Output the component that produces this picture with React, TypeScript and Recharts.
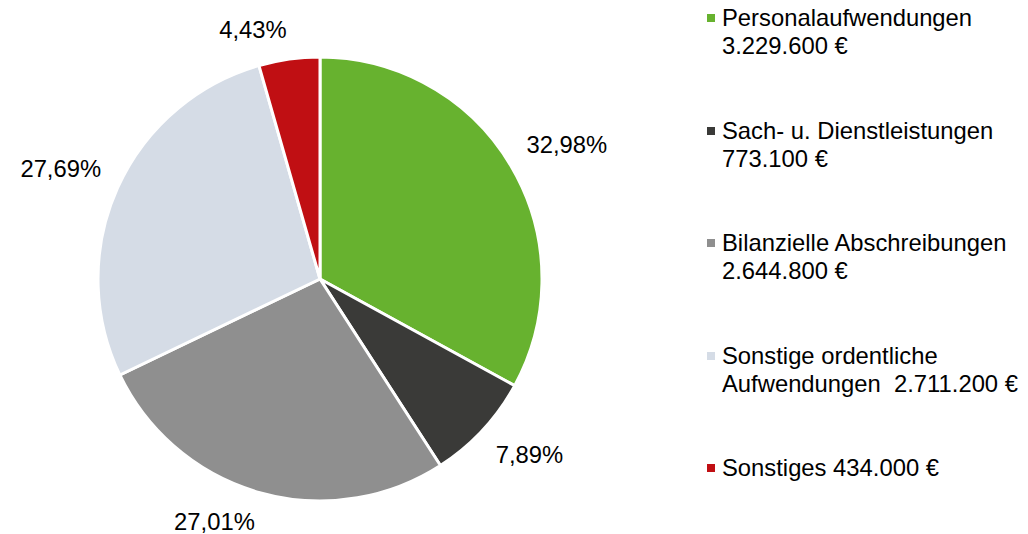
import React from "react";
import { PieChart, Pie, Cell, Legend } from "recharts";

const categories = [
  "Personalaufwendungen",
  "Sach- u. Dienstleistungen",
  "Bilanzielle Abschreibungen",
  "Sonstige ordentliche Aufwendungen",
  "Sonstiges",
];
const values = [3229600, 773100, 2644800, 2711200, 434000];
const legendLines = [
  ["Personalaufwendungen", "3.229.600 €"],
  ["Sach- u. Dienstleistungen", "773.100 €"],
  ["Bilanzielle Abschreibungen", "2.644.800 €"],
  ["Sonstige ordentliche", "Aufwendungen  2.711.200 €"],
  ["Sonstiges 434.000 €"],
];
const colors = ["#67b22f", "#3a3a38", "#8f8f8f", "#d5dce6", "#c00f13"];

const data = categories.map((name, i) => ({ name, value: values[i] }));

const FONT = "'Liberation Sans', Arial, sans-serif";
const FS = 23.8;

const charW = (ch: string) => {
  if (ch === ",") return 0.278;
  if (ch === "%") return 0.889;
  return 0.556;
};

const renderLabel = (props: any) => {
  const { cx, cy, midAngle, outerRadius, percent } = props;
  const text = (percent * 100).toFixed(2).replace(".", ",") + "%";
  const w = text.split("").reduce((s, c) => s + charW(c), 0) * FS;
  const h = 24;
  const rad = (midAngle * Math.PI) / 180;
  const cos = Math.cos(rad);
  const up = Math.sin(rad);
  const d = outerRadius + 18;
  const px = cx + d * cos;
  const py = cy - d * up;
  const x = px + Math.sign(cos) * (w / 2);
  const y = py - Math.sign(up) * (h / 2);
  return (
    <text
      x={x}
      y={y}
      textAnchor="middle"
      dominantBaseline="central"
      fill="#000"
      fontSize={FS}
      fontFamily={FONT}
    >
      {text}
    </text>
  );
};

const renderLegend = () => (
  <div style={{ fontFamily: FONT, fontSize: FS, color: "#000" }}>
    {legendLines.map((lines, i) => (
      <div
        key={i}
        style={{ position: "absolute", left: 0, top: 4 + i * 112.5, width: 325 }}
      >
        <div
          style={{
            position: "absolute",
            left: 4,
            top: 10,
            width: 8,
            height: 8,
            background: colors[i],
          }}
        />
        {lines.map((l, j) => (
          <div
            key={j}
            style={{
              marginLeft: 19,
              lineHeight: "28px",
              height: 28,
              whiteSpace: "pre",
            }}
          >
            {l}
          </div>
        ))}
      </div>
    ))}
  </div>
);

export default function App() {
  return (
    <div style={{ position: "absolute", left: 0, top: 0, width: 1028, height: 534, background: "#fff" }}>
      <PieChart width={1028} height={534} margin={{ top: 0, right: 0, bottom: 0, left: 0 }}>
        <Pie
          data={data}
          dataKey="value"
          nameKey="name"
          cx={320}
          cy={279}
          outerRadius={222}
          startAngle={90}
          endAngle={-270}
          stroke="#ffffff"
          strokeWidth={3}
          label={renderLabel}
          labelLine={false}
          isAnimationActive={false}
        >
          {data.map((d, i) => (
            <Cell key={d.name} fill={colors[i]} />
          ))}
        </Pie>
        <Legend
          layout="vertical"
          align="right"
          verticalAlign="top"
          content={renderLegend}
          wrapperStyle={{ position: "absolute", left: 703, top: 0, width: 325, height: 534 }}
        />
      </PieChart>
    </div>
  );
}
